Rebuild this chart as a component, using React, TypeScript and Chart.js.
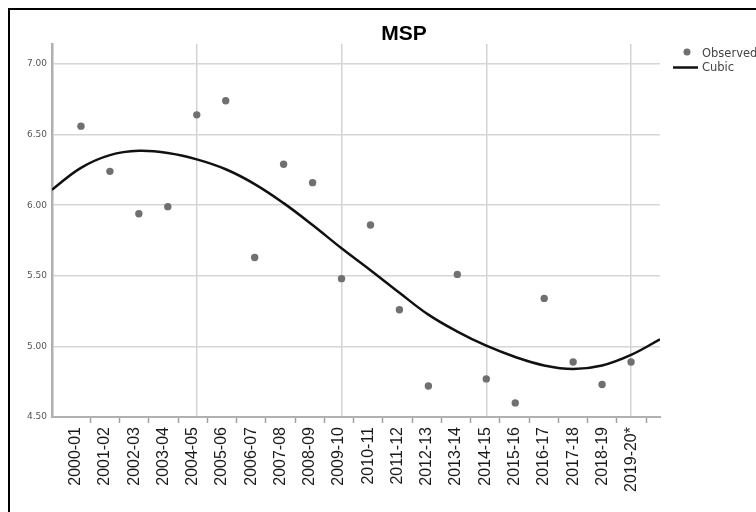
import React, { useEffect, useRef } from 'react';
import { Chart, registerables } from 'chart.js';

Chart.register(...registerables);

const titleText = 'MSP';
const categories = [
  '2000-01', '2001-02', '2002-03', '2003-04', '2004-05', '2005-06', '2006-07',
  '2007-08', '2008-09', '2009-10', '2010-11', '2011-12', '2012-13', '2013-14',
  '2014-15', '2015-16', '2016-17', '2017-18', '2018-19', '2019-20*',
];
const observedValues = [
  6.56, 6.24, 5.94, 5.99, 6.64, 6.74, 5.63, 6.29, 6.16, 5.48,
  5.86, 5.26, 4.72, 5.51, 4.77, 4.60, 5.34, 4.89, 4.73, 4.89,
];
const curveTimes = [0, 1, 2, 3, 4, 5, 6, 7, 8, 9, 10, 11, 12, 13, 14, 15, 16, 17, 18, 19, 20, 21];
const cubicValues = [
  6.11, 6.265, 6.355, 6.385, 6.37, 6.325, 6.255, 6.15, 6.015, 5.86, 5.695,
  5.54, 5.38, 5.225, 5.105, 5.005, 4.925, 4.865, 4.84, 4.865, 4.94, 5.05,
];
const yTicks = [4.5, 5.0, 5.5, 6.0, 6.5, 7.0];
const timeGrid = [5, 10, 15, 20];
const legendLabels = ['Observed', 'Cubic'];

const CW = 786;
const CH = 502;

export default function App() {
  const ref = useRef<HTMLCanvasElement>(null);

  useEffect(() => {
    if (!ref.current) return;
    const observed = observedValues.map((v, i) => ({ x: i + 1, y: v }));
    const cubic = curveTimes.map((t, i) => ({ x: t, y: cubicValues[i] }));

    const overlay = {
      id: 'overlay',
      afterDraw(chart: any) {
        const ctx = chart.ctx;
        const a = chart.chartArea;
        ctx.save();
        // title
        ctx.font = 'bold 21px "Liberation Sans", Arial, sans-serif';
        ctx.fillStyle = '#000';
        ctx.textAlign = 'center';
        ctx.textBaseline = 'middle';
        ctx.fillText(titleText, chart.width / 2 + 1, a.top - 10);
        // legend
        ctx.fillStyle = '#707070';
        ctx.beginPath();
        ctx.arc(a.right + 27, a.top + 8, 3.5, 0, Math.PI * 2);
        ctx.fill();
        ctx.strokeStyle = '#111';
        ctx.lineWidth = 2.5;
        ctx.beginPath();
        ctx.moveTo(a.right + 13, a.top + 23.5);
        ctx.lineTo(a.right + 38, a.top + 23.5);
        ctx.stroke();
        ctx.font = '11.5px "DejaVu Sans", sans-serif';
        ctx.fillStyle = '#444';
        ctx.textAlign = 'left';
        ctx.textBaseline = 'middle';
        ctx.fillText(legendLabels[0], a.right + 42, a.top + 10);
        ctx.fillText(legendLabels[1], a.right + 42, a.top + 24.5);
        ctx.restore();
      },
    };

    const chart = new Chart(ref.current, {
      type: 'scatter',
      data: {
        datasets: [
          {
            label: legendLabels[1],
            data: cubic,
            showLine: true,
            pointRadius: 0,
            borderColor: '#111111',
            borderWidth: 2.5,
            tension: 0.4,
            xAxisID: 'x',
            yAxisID: 'y',
          },
          {
            label: legendLabels[0],
            data: observed,
            showLine: false,
            pointRadius: 3.7,
            pointBorderWidth: 0,
            backgroundColor: '#707070',
            borderColor: '#707070',
            xAxisID: 'x',
            yAxisID: 'y',
          },
        ],
      },
      options: {
        responsive: false,
        animation: false,
        devicePixelRatio: 1,
        layout: { padding: { top: 34, right: 136, bottom: 0, left: 0 } },
        plugins: {
          legend: { display: false },
          title: { display: false },
          tooltip: { enabled: false },
        },
        scales: {
          x: {
            type: 'linear',
            position: 'bottom',
            min: 0,
            max: 21,
            afterBuildTicks: (s: any) => {
              s.ticks = timeGrid.map((v) => ({ value: v }));
            },
            ticks: { display: false },
            grid: { color: '#d4d4d4', lineWidth: 1.5, drawTicks: false },
            border: { display: false },
          },
          xl: {
            type: 'linear',
            position: 'bottom',
            min: -0.807,
            max: 19.97,
            afterBuildTicks: (s: any) => {
              s.ticks = categories.map((_, i) => ({ value: i + 0.5 }));
            },
            afterFit: (s: any) => {
              s.height = 95;
            },
            ticks: {
              autoSkip: false,
              minRotation: 90,
              maxRotation: 90,
              labelOffset: -14.6,
              padding: 4,
              color: '#1a1a1a',
              font: { family: '"Liberation Sans", Arial, sans-serif', size: 16 },
              callback: (_v: any, i: number) => categories[i],
            },
            grid: {
              drawOnChartArea: false,
              drawTicks: true,
              tickLength: 6,
              tickColor: '#a0a0a0',
              tickWidth: 1.5,
            },
            border: { display: true, color: '#b0b0b0', width: 2 },
          },
          y: {
            type: 'linear',
            min: 4.5,
            max: 7.142,
            afterBuildTicks: (s: any) => {
              s.ticks = yTicks.map((v) => ({ value: v }));
            },
            afterFit: (s: any) => {
              s.width = 42;
            },
            ticks: {
              padding: 5,
              color: '#555',
              font: { family: '"DejaVu Sans", sans-serif', size: 9 },
              callback: (v: any) => Number(v).toFixed(2),
            },
            grid: { color: '#d6d6d6', lineWidth: 1.5, drawTicks: false },
            border: { display: true, color: '#b0b0b0', width: 2.5 },
          },
        },
      },
      plugins: [overlay],
    });

    return () => chart.destroy();
  }, []);

  return (
    <div
      style={{
        position: 'fixed',
        left: 8,
        top: 8,
        width: 748,
        height: 504,
        overflow: 'hidden',
        background: '#fff',
      }}
    >
      <div
        style={{
          width: 800,
          height: 520,
          borderLeft: '2px solid #000',
          borderTop: '2px solid #000',
          boxSizing: 'border-box',
        }}
      >
        <canvas ref={ref} width={CW} height={CH} style={{ display: 'block' }} />
      </div>
    </div>
  );
}
